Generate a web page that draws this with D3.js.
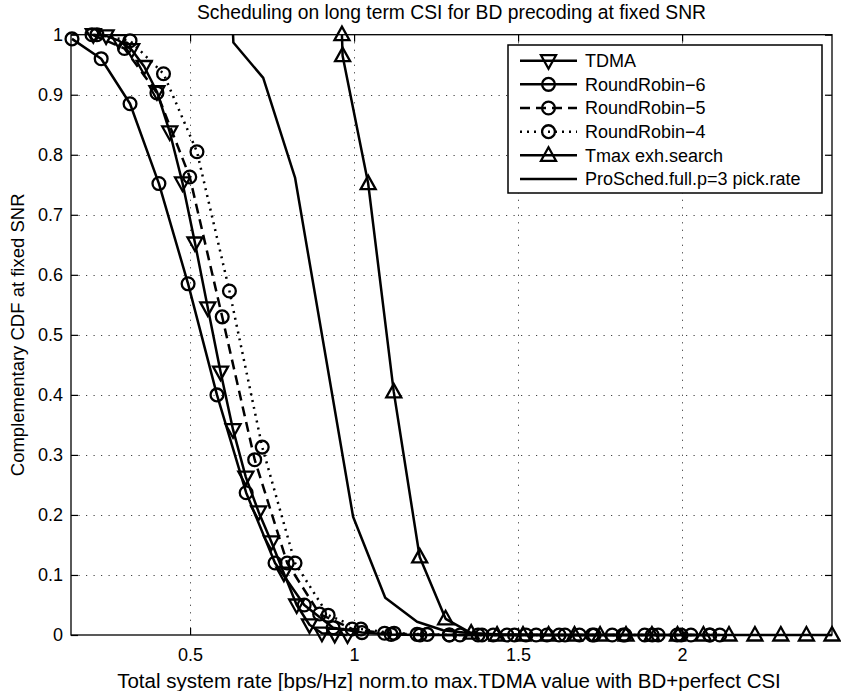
<!DOCTYPE html>
<html>
<head>
<meta charset="utf-8">
<script src="https://cdn.jsdelivr.net/npm/d3@7"></script>
<style>
  html, body { margin: 0; padding: 0; background: #fff; }
  svg text { font-family: "Liberation Sans", Arial, Helvetica, sans-serif; fill: #000; }
</style>
</head>
<body>
<svg id="chart" width="841" height="691"></svg>
<script>
// ---------------- data ----------------
const titleText = "Scheduling on long term CSI for BD precoding at fixed SNR";
const xLabelText = "Total system rate [bps/Hz] norm.to max.TDMA value with BD+perfect CSI";
const yLabelText = "Complementary CDF at fixed SNR";

const xTicks = [0.5, 1, 1.5, 2];
const xTickLabels = ["0.5", "1", "1.5", "2"];
const yTicks = [0, 0.1, 0.2, 0.3, 0.4, 0.5, 0.6, 0.7, 0.8, 0.9, 1];
const yTickLabels = ["0", "0.1", "0.2", "0.3", "0.4", "0.5", "0.6", "0.7", "0.8", "0.9", "1"];
const xDomain = [0.137, 2.457];
const yDomain = [0, 1];

const seriesNames = ["TDMA", "RoundRobin\u22126", "RoundRobin\u22125", "RoundRobin\u22124", "Tmax exh.search", "ProSched.full.p=3 pick.rate"];

const tdmaX = [0.205, 0.244, 0.283, 0.322, 0.360, 0.399, 0.438, 0.477, 0.515, 0.554, 0.593, 0.631, 0.670, 0.709, 0.748, 0.786, 0.825, 0.864, 0.902, 0.941, 0.980];
const tdmaY = [1.000, 0.998, 0.990, 0.975, 0.947, 0.905, 0.838, 0.753, 0.653, 0.545, 0.438, 0.342, 0.263, 0.205, 0.155, 0.103, 0.050, 0.017, 0.003, 0.001, 0.000];

const rr6X = [0.140, 0.229, 0.317, 0.405, 0.494, 0.582, 0.671, 0.759, 0.848, 0.936, 1.024, 1.113, 1.201, 1.290, 1.378, 1.466, 1.555, 1.643, 1.732, 1.820, 1.909, 1.997, 2.085];
const rr6Y = [0.993, 0.960, 0.885, 0.752, 0.585, 0.400, 0.237, 0.120, 0.050, 0.012, 0.004, 0.001, 0, 0, 0, 0, 0, 0, 0, 0, 0, 0, 0];

const rr5X = [0.201, 0.300, 0.399, 0.499, 0.598, 0.697, 0.796, 0.895, 0.994, 1.093, 1.192, 1.291, 1.390, 1.489, 1.588, 1.687, 1.787, 1.886, 1.985, 2.084];
const rr5Y = [1.000, 0.977, 0.903, 0.763, 0.530, 0.292, 0.120, 0.035, 0.010, 0.003, 0.001, 0, 0, 0, 0, 0, 0, 0, 0, 0];

const rr4X = [0.216, 0.317, 0.419, 0.521, 0.620, 0.720, 0.820, 0.921, 1.021, 1.122, 1.223, 1.323, 1.424, 1.524, 1.625, 1.726, 1.826, 1.927, 2.027, 2.115];
const rr4Y = [1.000, 0.990, 0.935, 0.805, 0.573, 0.313, 0.120, 0.033, 0.010, 0.003, 0.001, 0, 0, 0, 0, 0, 0, 0, 0, 0];

const tmaxX = [0.963, 0.965, 1.043, 1.121, 1.200, 1.279, 1.357, 1.436, 1.515, 1.593, 1.672, 1.750, 1.829, 1.908, 1.986, 2.065, 2.143, 2.222, 2.301, 2.379, 2.457];
const tmaxY = [1.000, 0.965, 0.752, 0.405, 0.130, 0.027, 0.003, 0, 0, 0, 0, 0, 0, 0, 0, 0, 0, 0, 0, 0, 0];

const proX = [0.631, 0.632, 0.723, 0.820, 0.909, 0.997, 1.095, 1.192, 1.271, 1.354, 1.450, 1.600, 1.800];
const proY = [1.000, 0.987, 0.928, 0.762, 0.478, 0.197, 0.062, 0.022, 0.008, 0.003, 0.001, 0, 0];

// ---------------- layout ----------------
const W = 841, H = 691;
const plotL = 71, plotR = 832, plotT = 34.7, plotB = 635;
const FONT = 18;

const svg = d3.select("#chart");
svg.append("rect").attr("width", W).attr("height", H).attr("fill", "#fff");

const x = d3.scaleLinear().domain(xDomain).range([plotL, plotR]);
const y = d3.scaleLinear().domain(yDomain).range([plotB, plotT]);

// grid
const grid = svg.append("g").attr("stroke", "#444").attr("stroke-width", 1).attr("stroke-dasharray", "1.2,6.3");
grid.selectAll("line.gx").data(xTicks).join("line")
  .attr("x1", d => Math.round(x(d)) + 0.5).attr("x2", d => Math.round(x(d)) + 0.5)
  .attr("y1", plotT).attr("y2", plotB);
grid.selectAll("line.gy").data(yTicks.filter(d => d > 0 && d < 1)).join("line")
  .attr("x1", plotL).attr("x2", plotR)
  .attr("y1", d => Math.round(y(d)) + 0.5).attr("y2", d => Math.round(y(d)) + 0.5);

// axes
function styleAxis(g) {
  g.selectAll(".domain").remove();
  g.selectAll(".tick line").attr("stroke", "#000").attr("stroke-width", 1.2);
  g.selectAll(".tick text").attr("font-size", FONT).attr("font-family", "Liberation Sans, Arial, sans-serif").attr("fill", "#000");
}
svg.append("g").attr("transform", `translate(${plotL},0)`)
  .call(d3.axisLeft(y).tickValues(yTicks).tickFormat((d, i) => yTickLabels[i]).tickSize(-7).tickPadding(8))
  .call(styleAxis);
svg.append("g").attr("transform", `translate(${plotR},0)`)
  .call(d3.axisRight(y).tickValues(yTicks).tickFormat("").tickSize(-7))
  .call(styleAxis);
svg.append("g").attr("transform", `translate(0,${plotB})`)
  .call(d3.axisBottom(x).tickValues(xTicks).tickFormat((d, i) => xTickLabels[i]).tickSize(-7).tickPadding(13))
  .call(styleAxis);
svg.append("g").attr("transform", `translate(0,${plotT})`)
  .call(d3.axisTop(x).tickValues(xTicks).tickFormat("").tickSize(-7))
  .call(styleAxis);

// box
svg.append("rect").attr("x", plotL).attr("y", plotT).attr("width", plotR - plotL).attr("height", plotB - plotT)
  .attr("fill", "none").attr("stroke", "#000").attr("stroke-width", 1.3);

// marker drawing
function drawMarker(g, type, cx, cy) {
  if (type === "circle") {
    g.append("circle").attr("cx", cx).attr("cy", cy).attr("r", 6.4)
      .attr("fill", "none").attr("stroke", "#000").attr("stroke-width", 2.3);
  } else if (type === "down") {
    g.append("path").attr("d", `M${cx - 7.5},${cy - 5.5}L${cx + 7.5},${cy - 5.5}L${cx},${cy + 8}Z`)
      .attr("fill", "none").attr("stroke", "#000").attr("stroke-width", 2.3).attr("stroke-linejoin", "miter");
  } else if (type === "up") {
    g.append("path").attr("d", `M${cx - 7.5},${cy + 5.5}L${cx + 7.5},${cy + 5.5}L${cx},${cy - 8}Z`)
      .attr("fill", "none").attr("stroke", "#000").attr("stroke-width", 2.3).attr("stroke-linejoin", "miter");
  }
}

const seriesDefs = [
  { name: seriesNames[0], xs: tdmaX, ys: tdmaY, dash: null, marker: "down" },
  { name: seriesNames[1], xs: rr6X, ys: rr6Y, dash: null, marker: "circle" },
  { name: seriesNames[2], xs: rr5X, ys: rr5Y, dash: "10,6", marker: "circle" },
  { name: seriesNames[3], xs: rr4X, ys: rr4Y, dash: "2,5", marker: "circle" },
  { name: seriesNames[4], xs: tmaxX, ys: tmaxY, dash: null, marker: "up" },
  { name: seriesNames[5], xs: proX, ys: proY, dash: null, marker: null }
];

const line = d3.line().x(d => x(d[0])).y(d => y(d[1]));
const plotG = svg.append("g");
seriesDefs.forEach(s => {
  const pts = s.xs.map((v, i) => [v, s.ys[i]]);
  plotG.append("path").attr("d", line(pts)).attr("fill", "none").attr("stroke", "#000")
    .attr("stroke-width", 2.5).attr("stroke-linejoin", "round")
    .attr("stroke-dasharray", s.dash);
  if (s.marker) {
    const mg = plotG.append("g");
    pts.forEach(p => drawMarker(mg, s.marker, x(p[0]), y(p[1])));
  }
});

// title and labels
svg.append("text").attr("x", (plotL + plotR) / 2).attr("y", 19).attr("text-anchor", "middle")
  .attr("font-size", 19.3).text(titleText);
svg.append("text").attr("x", 449).attr("y", 688).attr("text-anchor", "middle")
  .attr("font-size", 20.5).text(xLabelText);
svg.append("text").attr("transform", `translate(24,${(plotT + plotB) / 2}) rotate(-90)`).attr("text-anchor", "middle")
  .attr("font-size", 18.5).text(yLabelText);

// legend
const lg = svg.append("g");
const lgX = 508, lgY = 45, lgW = 314, lgH = 148;
lg.append("rect").attr("x", lgX).attr("y", lgY).attr("width", lgW).attr("height", lgH)
  .attr("fill", "#fff").attr("stroke", "#000").attr("stroke-width", 1.5);
const rowY0 = 60.7, rowStep = 23.65;
seriesDefs.forEach((s, i) => {
  const ry = rowY0 + i * rowStep;
  lg.append("line").attr("x1", 520).attr("x2", 577).attr("y1", ry).attr("y2", ry)
    .attr("stroke", "#000").attr("stroke-width", 2.5).attr("stroke-dasharray", s.dash);
  if (s.marker) drawMarker(lg, s.marker, 548.5, ry);
  lg.append("text").attr("x", 585).attr("y", ry).attr("dy", "0.36em").attr("font-size", FONT).text(s.name);
});
</script>
</body>
</html>
